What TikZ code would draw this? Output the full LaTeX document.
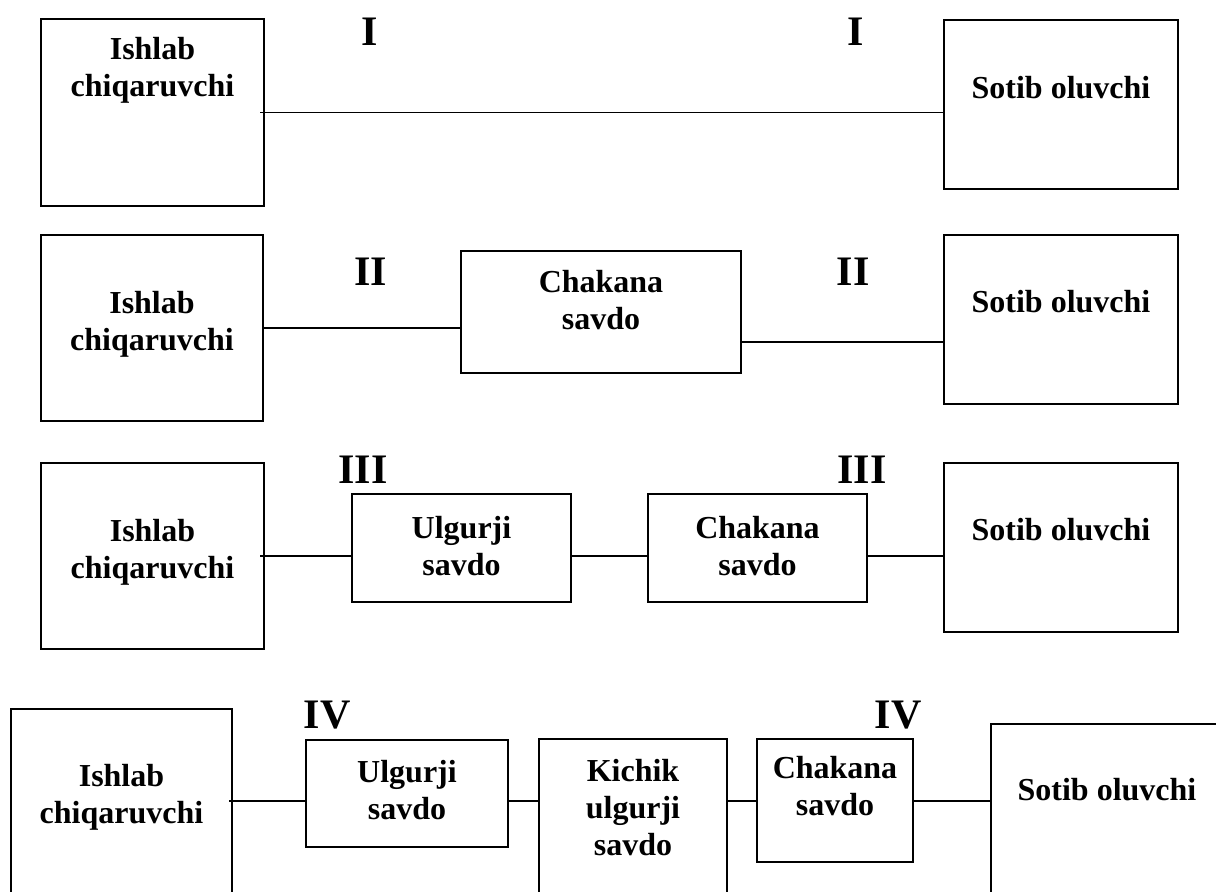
\documentclass[tikz,border=0pt]{standalone}
\usepackage{fontspec}
\setmainfont{Liberation Serif}
\begin{document}
\begin{tikzpicture}[x=0.5pt, y=-0.5pt,
    box/.style = {draw, line width=1pt, inner sep=0pt},
    txt/.style = {font=\bfseries\fontsize{16}{18.5}\selectfont, align=center, inner sep=0pt},
    num/.style = {font=\bfseries\fontsize{21}{24}\selectfont, inner sep=0pt},
    link/.style = {line width=0.75pt}]
    \clip (0,0) rectangle (1216,892);
    % I
    \node[box, minimum width=111.5pt, minimum height=93.5pt] (p1) at (152.5,112.5) {};
    \node[box, minimum width=117pt, minimum height=84.5pt] (s1) at (1061,104.5) {};
    \node[txt] (tp1) at (152.5,70) {Ishlab\\chiqaruvchi};
    \node[txt] (ts1) at (1061,88) {Sotib oluvchi};
    \node[num] (n1a) at (370,32) {I};
    \node[num] (n1b) at (856,32) {I};
    \draw[link] ([xshift=-2.5pt]p1.east) -- (p1.east -| s1.west);
    % II
    \node[box, minimum width=111pt, minimum height=93pt] (p2) at (152,328) {};
    \node[box, minimum width=140pt, minimum height=61pt] (c2) at (601,312) {};
    \node[box, minimum width=117pt, minimum height=84.5pt] (s2) at (1061,319.5) {};
    \node[txt] (tp2) at (152,324) {Ishlab\\chiqaruvchi};
    \node[txt] (tc2) at (601,300) {Chakana\\savdo};
    \node[txt] (ts2) at (1061,302) {Sotib oluvchi};
    \node[num] (n2a) at (371,272) {II};
    \node[num] (n2b) at (853,272) {II};
    \draw[link] (p2.east) -- (p2.east -| c2.west);
    \draw[link] ([yshift=-15pt]c2.east) -- ([yshift=-15pt]c2.east -| s2.west);
    % III
    \node[box, minimum width=111.5pt, minimum height=93pt] (p3) at (152.5,556) {};
    \node[box, minimum width=109.5pt, minimum height=54pt] (u3) at (461.5,548) {};
    \node[box, minimum width=109.5pt, minimum height=54pt] (c3) at (757.5,548) {};
    \node[box, minimum width=117pt, minimum height=84.5pt] (s3) at (1061,547.5) {};
    \node[txt] (tp3) at (152.5,552) {Ishlab\\chiqaruvchi};
    \node[txt] (tu3) at (461.5,546) {Ulgurji\\savdo};
    \node[txt] (tc3) at (757.5,546) {Chakana\\savdo};
    \node[txt] (ts3) at (1061,530) {Sotib oluvchi};
    \node[num] (n3a) at (363,470) {III};
    \node[num] (n3b) at (862,470) {III};
    \draw[link] ([xshift=-2.5pt]p3.east) -- (p3.east -| u3.west);
    \draw[link] (u3.east |- p3.east) -- (c3.west |- p3.east);
    \draw[link] (c3.east |- p3.east) -- (s3.west |- p3.east);
    % IV
    \coordinate (r4) at (0,801);
    \node[box, minimum width=110.5pt, minimum height=110.5pt] (p4) at (121.5,819.5) {};
    \node[box, minimum width=101pt, minimum height=53.5pt] (u4) at (407,793.5) {};
    \node[box, minimum width=94pt, minimum height=95.5pt] (k4) at (633,834.5) {};
    \node[box, minimum width=78pt, minimum height=61.5pt] (c4) at (835,800.5) {};
    \node[box, minimum width=124.5pt, minimum height=103pt] (s4) at (1115.5,827) {};
    \node[txt] (tp4) at (121.5,797) {Ishlab\\chiqaruvchi};
    \node[txt] (tu4) at (407,790) {Ulgurji\\savdo};
    \node[txt] (tk4) at (633,808) {Kichik\\ulgurji\\savdo};
    \node[txt] (tc4) at (835,786) {Chakana\\savdo};
    \node[txt] (ts4) at (1107,790) {Sotib oluvchi};
    \node[num] (n4a) at (327,715) {IV};
    \node[num] (n4b) at (898,715) {IV};
    \draw[link] ([xshift=-2pt]p4.east |- r4) -- (u4.west |- r4);
    \draw[link] (u4.east |- r4) -- (k4.west |- r4);
    \draw[link] (k4.east |- r4) -- (c4.west |- r4);
    \draw[link] (c4.east |- r4) -- (s4.west |- r4);
\end{tikzpicture}
\end{document}
